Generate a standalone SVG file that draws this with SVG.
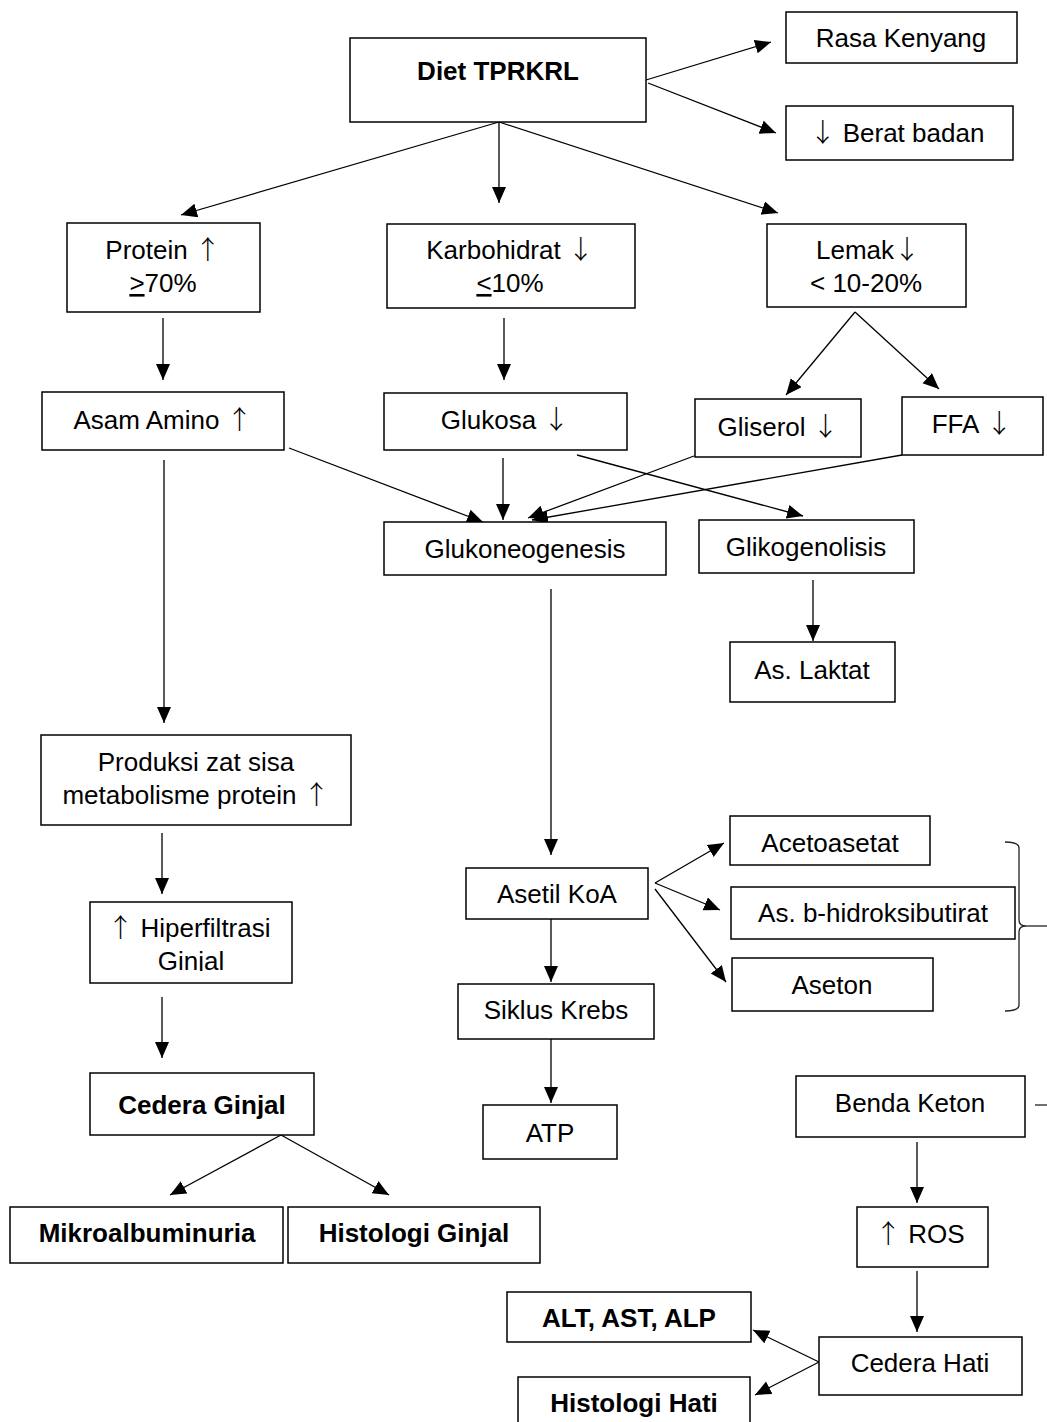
<svg xmlns="http://www.w3.org/2000/svg" width="1047" height="1422" viewBox="0 0 1047 1422">
<style>
  .box { fill: #ffffff; stroke: #000000; stroke-width: 1.5; }
  .t { font-family: "Liberation Sans", Arial, sans-serif; font-size: 26px; fill: #000000; text-anchor: middle; }
  .b { font-weight: bold; }
  .ar { font-family: "Noto Sans CJK JP", "DejaVu Sans", sans-serif; font-weight: 300; }
  .c { fill: none; stroke: #000000; stroke-width: 1.3; marker-end: url(#ah); }
  .br { fill: none; stroke: #222222; stroke-width: 1.3; }
</style>
<defs>
  <marker id="ah" markerUnits="userSpaceOnUse" markerWidth="18" markerHeight="16" refX="16" refY="7" orient="auto">
    <path d="M0,0 L16,7 L0,14 z" fill="#000000"/>
  </marker>
  <clipPath id="clipGinjal"><rect x="90" y="900" width="202" height="71"/></clipPath>
</defs>
<rect width="1047" height="1422" fill="#ffffff"/>

<g id="connectors">
  <path class="c" d="M646,80 L771,42"/>
  <path class="c" d="M648,83 L776,133"/>
  <path class="c" d="M499,122 L181,215"/>
  <path class="c" d="M499,122 L499,203"/>
  <path class="c" d="M499,122 L778,213"/>
  <path class="c" d="M163,318 L163,380"/>
  <path class="c" d="M504,318 L504,380"/>
  <path class="c" d="M855,312 L786,395"/>
  <path class="c" d="M855,312 L939,389"/>
  <path class="c" d="M289,448 L483,522"/>
  <path class="c" d="M503,458 L503,520"/>
  <path class="c" d="M694,456 L528,518"/>
  <path class="c" d="M902,455 L532,520"/>
  <path class="c" d="M577,455 L803,516"/>
  <path class="c" d="M164,460 L164,723"/>
  <path class="c" d="M551,589 L551,855"/>
  <path class="c" d="M813,580 L813,641"/>
  <path class="c" d="M162,833 L162,894"/>
  <path class="c" d="M162,997 L162,1058"/>
  <path class="c" d="M281,1135 L170,1195"/>
  <path class="c" d="M281,1135 L389,1195"/>
  <path class="c" d="M655,883 L724,843"/>
  <path class="c" d="M655,883 L720,910"/>
  <path class="c" d="M655,889 L726,982"/>
  <path class="c" d="M551,919 L551,982"/>
  <path class="c" d="M551,1039 L551,1103"/>
  <path class="c" d="M917,1142 L917,1203"/>
  <path class="c" d="M917,1271 L917,1332"/>
  <path class="c" d="M819,1362 L753,1330"/>
  <path class="c" d="M819,1362 L755,1395"/>
  <path class="br" d="M1005,842 Q1019,842 1019,848 L1019,920 Q1019,926 1026,926 Q1019,926 1019,932 L1019,1005 Q1019,1011 1005,1011"/>
  <path class="br" d="M1026,926 L1047,926"/>
  <path class="br" d="M1035,1105 L1047,1105"/>
</g>

<g id="diet"><rect class="box" x="350" y="38" width="296" height="84"/><text class="t b" x="498" y="80">Diet TPRKRL</text></g>
<g id="rasa"><rect class="box" x="786" y="12" width="231" height="51"/><text class="t" x="901" y="47">Rasa Kenyang</text></g>
<g id="berat"><rect class="box" x="786" y="106" width="227" height="54"/><text class="t" x="897" y="142"><tspan class="ar">↓</tspan><tspan dx="7">Berat badan</tspan></text></g>
<g id="protein"><rect class="box" x="67" y="223" width="193" height="89"/><text class="t" x="163" y="259">Protein<tspan class="ar" dx="7">↑</tspan></text><text class="t" x="163" y="292"><tspan text-decoration="underline">&gt;</tspan>70%</text></g>
<g id="karbohidrat"><rect class="box" x="387" y="224" width="248" height="84"/><text class="t" x="510" y="259">Karbohidrat<tspan class="ar" dx="7">↓</tspan></text><text class="t" x="510" y="292"><tspan text-decoration="underline">&lt;</tspan>10%</text></g>
<g id="lemak"><rect class="box" x="767" y="224" width="199" height="83"/><text class="t" x="868" y="259">Lemak<tspan class="ar">↓</tspan></text><text class="t" x="866" y="292">&lt; 10-20%</text></g>
<g id="asam-amino"><rect class="box" x="42" y="392" width="242" height="58"/><text class="t" x="163" y="429">Asam Amino<tspan class="ar" dx="7">↑</tspan></text></g>
<g id="glukosa"><rect class="box" x="384" y="393" width="243" height="57"/><text class="t" x="505" y="429">Glukosa<tspan class="ar" dx="7">↓</tspan></text></g>
<g id="gliserol"><rect class="box" x="695" y="399" width="166" height="58"/><text class="t" x="778" y="436">Gliserol<tspan class="ar" dx="7">↓</tspan></text></g>
<g id="ffa"><rect class="box" x="902" y="397" width="141" height="58"/><text class="t" x="972" y="433">FFA<tspan class="ar" dx="7">↓</tspan></text></g>
<g id="glukoneogenesis"><rect class="box" x="384" y="522" width="282" height="53"/><text class="t" x="525" y="558">Glukoneogenesis</text></g>
<g id="glikogenolisis"><rect class="box" x="699" y="520" width="215" height="53"/><text class="t" x="806" y="556">Glikogenolisis</text></g>
<g id="laktat"><rect class="box" x="730" y="642" width="165" height="60"/><text class="t" x="812" y="679">As. Laktat</text></g>
<g id="produksi"><rect class="box" x="41" y="735" width="310" height="90"/><text class="t" x="196" y="771">Produksi zat sisa</text><text class="t" x="196" y="804">metabolisme protein<tspan class="ar" dx="7">↑</tspan></text></g>
<g id="hiperfiltrasi"><rect class="box" x="90" y="902" width="202" height="81"/><text class="t" x="189" y="937"><tspan class="ar">↑</tspan><tspan dx="7">Hiperfiltrasi</tspan></text><text class="t" x="191" y="970" clip-path="url(#clipGinjal)">Ginjal</text></g>
<g id="cedera-ginjal"><rect class="box" x="90" y="1073" width="224" height="62"/><text class="t b" x="202" y="1114">Cedera Ginjal</text></g>
<g id="mikroalbuminuria"><rect class="box" x="10" y="1207" width="273" height="56"/><text class="t b" x="147" y="1242">Mikroalbuminuria</text></g>
<g id="histologi-ginjal"><rect class="box" x="288" y="1207" width="252" height="56"/><text class="t b" x="414" y="1242">Histologi Ginjal</text></g>
<g id="asetil"><rect class="box" x="466" y="868" width="182" height="51"/><text class="t" x="557" y="903">Asetil KoA</text></g>
<g id="siklus"><rect class="box" x="458" y="984" width="196" height="55"/><text class="t" x="556" y="1019">Siklus Krebs</text></g>
<g id="atp"><rect class="box" x="483" y="1105" width="134" height="54"/><text class="t" x="550" y="1142">ATP</text></g>
<g id="acetoasetat"><rect class="box" x="730" y="816" width="200" height="49"/><text class="t" x="830" y="852">Acetoasetat</text></g>
<g id="hidroksibutirat"><rect class="box" x="731" y="887" width="284" height="52"/><text class="t" x="873" y="922">As. b-hidroksibutirat</text></g>
<g id="aseton"><rect class="box" x="732" y="958" width="201" height="53"/><text class="t" x="832" y="994">Aseton</text></g>
<g id="benda-keton"><rect class="box" x="796" y="1076" width="229" height="61"/><text class="t" x="910" y="1112">Benda Keton</text></g>
<g id="ros"><rect class="box" x="857" y="1207" width="131" height="60"/><text class="t" x="920" y="1243"><tspan class="ar">↑</tspan><tspan dx="7">ROS</tspan></text></g>
<g id="cedera-hati"><rect class="box" x="819" y="1337" width="203" height="58"/><text class="t" x="920" y="1372">Cedera Hati</text></g>
<g id="alt"><rect class="box" x="507" y="1292" width="244" height="50"/><text class="t b" x="629" y="1327">ALT, AST, ALP</text></g>
<g id="histologi-hati"><rect class="box" x="518" y="1377" width="232" height="50"/><text class="t b" x="634" y="1412">Histologi Hati</text></g>
</svg>
